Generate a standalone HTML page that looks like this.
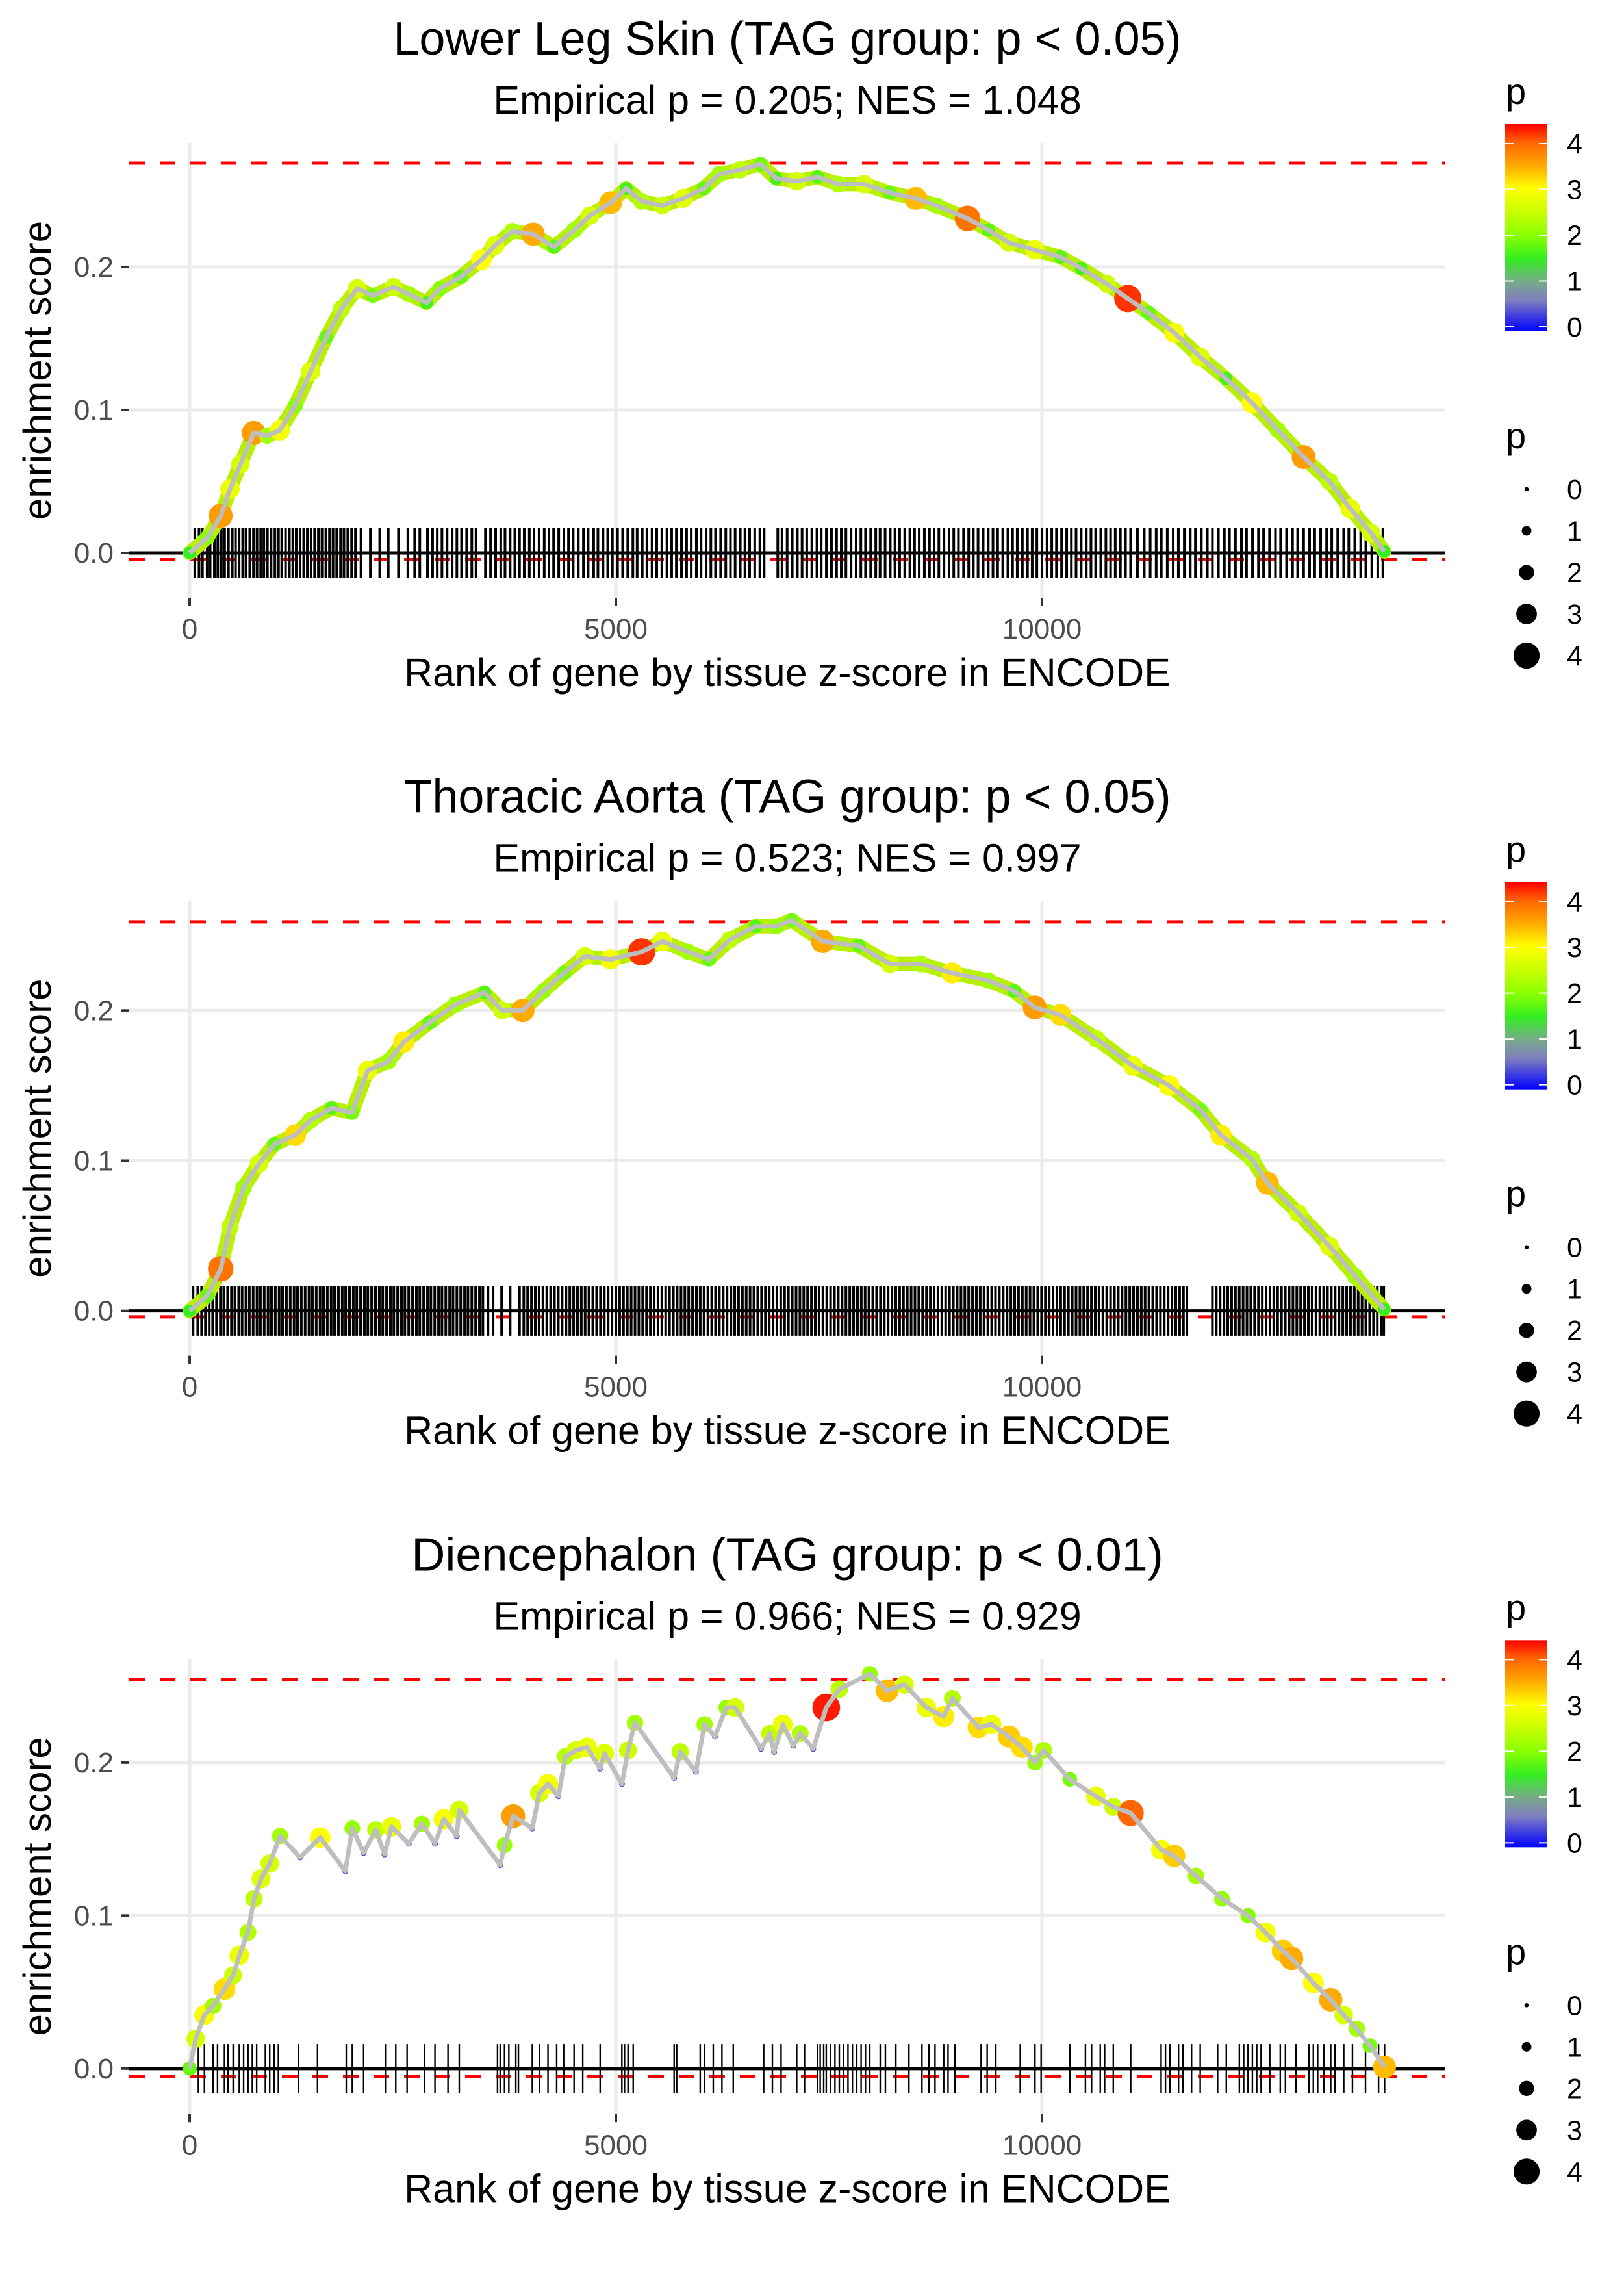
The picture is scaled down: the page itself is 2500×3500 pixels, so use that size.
<!DOCTYPE html>
<html><head><meta charset="utf-8"><style>
html,body{margin:0;padding:0;background:#fff;}
svg{display:block;font-family:"Liberation Sans",Arial,sans-serif;}
</style></head><body>
<svg id="chart" width="2500" height="3500" viewBox="0 0 2500 3500" xmlns="http://www.w3.org/2000/svg">
<defs>
<linearGradient id="pgrad" x1="0" y1="1" x2="0" y2="0">
<stop offset="0" stop-color="#0000ff"/><stop offset="0.15" stop-color="#7f7fbf"/><stop offset="0.24" stop-color="#77aa88"/><stop offset="0.35" stop-color="#33ee22"/><stop offset="0.46" stop-color="#88ff00"/><stop offset="0.58" stop-color="#ccff00"/><stop offset="0.69" stop-color="#ffff00"/><stop offset="0.80" stop-color="#ffaa00"/><stop offset="0.91" stop-color="#ff6600"/><stop offset="1" stop-color="#ff0000"/>
</linearGradient>
</defs>
<g id="panel0">
<text x="1212" y="84" font-size="72" text-anchor="middle">Lower Leg Skin (TAG group: p &lt; 0.05)</text>
<text x="1212" y="175" font-size="61" text-anchor="middle">Empirical p = 0.205; NES = 1.048</text>
<text x="1212" y="1056" font-size="61" text-anchor="middle">Rank of gene by tissue z-score in ENCODE</text>
<text transform="translate(78,570) rotate(-90)" font-size="60" text-anchor="middle">enrichment score</text>
</g>
<g id="panel1" transform="translate(0,1166.67)">
<text x="1212" y="84" font-size="72" text-anchor="middle">Thoracic Aorta (TAG group: p &lt; 0.05)</text>
<text x="1212" y="175" font-size="61" text-anchor="middle">Empirical p = 0.523; NES = 0.997</text>
<text x="1212" y="1056" font-size="61" text-anchor="middle">Rank of gene by tissue z-score in ENCODE</text>
<text transform="translate(78,570) rotate(-90)" font-size="60" text-anchor="middle">enrichment score</text>
</g>
<g id="panel2" transform="translate(0,2333.33)">
<text x="1212" y="84" font-size="72" text-anchor="middle">Diencephalon (TAG group: p &lt; 0.01)</text>
<text x="1212" y="175" font-size="61" text-anchor="middle">Empirical p = 0.966; NES = 0.929</text>
<text x="1212" y="1056" font-size="61" text-anchor="middle">Rank of gene by tissue z-score in ENCODE</text>
<text transform="translate(78,570) rotate(-90)" font-size="60" text-anchor="middle">enrichment score</text>
</g>
</svg>
<script>
// ---- data ----
const xTicks = [0, 5000, 10000];
const yTicks = [0.0, 0.1, 0.2];
const legendTicks = [0, 1, 2, 3, 4];

const p1Rank = [0,206,364,473,595,752,910,1056,1238,1420,1602,1784,1966,2148,2391,2573,2779,2937,3180,3422,3580,3786,4029,4272,4515,4697,4939,5121,5303,5546,5789,6031,6214,6456,6699,6881,7124,7367,7609,7913,8216,8519,8762,9126,9369,9612,9915,10218,10461,10765,11007,11250,11553,11857,12160,12464,12767,13070,13374,13617,13859,14017];
const p1ES = [0,0.0106,0.026,0.0447,0.062,0.084,0.082,0.0857,0.103,0.127,0.151,0.171,0.185,0.180,0.186,0.181,0.175,0.185,0.193,0.205,0.215,0.225,0.223,0.214,0.226,0.236,0.245,0.255,0.246,0.243,0.248,0.255,0.265,0.268,0.272,0.262,0.260,0.263,0.258,0.258,0.252,0.248,0.243,0.234,0.226,0.217,0.212,0.207,0.199,0.188,0.178,0.168,0.154,0.137,0.122,0.105,0.086,0.067,0.050,0.031,0.014,0.001];
const p1P = [1.5,2,3.6,2.8,2.6,3.6,2.2,2.9,2,2.7,1.8,2.4,2.6,1.9,2.5,2.2,1.6,2,1.8,3,2.7,2.3,3.5,1.7,2.2,2.6,3.4,1.6,2.3,2.5,2.7,1.8,2.2,2.4,1.9,1.6,2.6,1.7,2.3,2.6,1.8,3.4,2.2,3.9,1.7,2.6,2.8,1.7,1.6,2.5,4.2,1.8,2.9,2.7,1.6,3,2.2,3.6,2.4,2.8,2.6,1.5];
const p1Rug = [60,110,150,205,240,290,330,372,410,455,500,538,580,622,660,705,748,790,833,870,912,955,1000,1042,1080,1125,1170,1210,1250,1296,1338,1380,1425,1466,1510,1552,1598,1640,1682,1725,1770,1810,1855,1900,1945,2010,2120,2230,2330,2450,2560,2640,2700,2790,2850,2905,2960,3020,3080,3135,3190,3250,3310,3360,3470,3530,3590,3650,3700,3760,3815,3870,3925,3985,4040,4100,4160,4215,4270,4330,4390,4445,4500,4560,4620,4675,4740,4790,4850,4905,4960,5020,5080,5140,5200,5250,5310,5365,5425,5480,5540,5600,5655,5710,5770,5830,5885,5945,6000,6060,6115,6170,6230,6290,6345,6400,6460,6515,6570,6630,6690,6740,6900,6950,7010,7070,7130,7185,7240,7300,7360,7410,7470,7530,7590,7645,7700,7760,7820,7875,7930,7990,8050,8100,8160,8220,8275,8330,8390,8450,8505,8560,8620,8680,8735,8790,8850,8910,8965,9020,9080,9140,9195,9250,9310,9370,9425,9480,9540,9600,9655,9710,9770,9830,9885,9940,10000,10060,10115,10170,10230,10290,10345,10400,10460,10520,10575,10630,10690,10750,10805,10860,10920,10980,11040,11120,11200,11270,11340,11400,11470,11540,11600,11670,11740,11800,11870,11940,12000,12070,12140,12200,12270,12340,12400,12470,12540,12600,12670,12740,12800,12870,12940,13000,13070,13140,13200,13270,13340,13400,13470,13540,13600,13670,13740,13800,13870,13940,14000];

const p2Rank = [0,206,364,473,631,813,995,1238,1420,1663,1905,2087,2330,2512,2816,3119,3459,3665,3908,4150,4393,4636,4939,5303,5546,5850,6092,6335,6638,6881,7063,7427,7852,8216,8580,8944,9369,9672,9915,10218,10643,11068,11493,11857,12100,12464,12646,13010,13374,13677,14017];
const p2ES = [0,0.010,0.028,0.056,0.082,0.098,0.111,0.117,0.127,0.135,0.132,0.160,0.166,0.179,0.192,0.204,0.212,0.200,0.200,0.213,0.225,0.236,0.234,0.239,0.246,0.239,0.234,0.247,0.256,0.256,0.260,0.246,0.243,0.231,0.231,0.225,0.220,0.213,0.202,0.197,0.181,0.163,0.150,0.134,0.117,0.101,0.085,0.065,0.043,0.023,0.001];
const p2P = [1.5,1.8,3.9,2.4,2.2,2.6,1.8,3.2,2.3,1.7,1.9,2.8,2.2,3.1,1.8,2.2,1.7,2.5,3.5,2.1,1.9,2.6,2.9,4.2,2.8,2.2,1.8,2.4,1.7,2.1,1.9,3.5,1.8,2.6,2.3,3.1,2.2,1.7,3.6,3.2,2.4,2.8,3,1.9,3.1,2.3,3.4,2.5,2.7,2.2,1.5];
const p2Rug = [40,95,140,185,230,270,315,360,400,445,490,530,575,615,660,700,745,790,830,875,920,960,1005,1050,1090,1135,1180,1225,1265,1310,1355,1400,1440,1485,1530,1570,1615,1660,1700,1745,1790,1830,1875,1920,1960,2005,2050,2090,2135,2180,2225,2265,2310,2355,2395,2440,2485,2525,2570,2615,2660,2700,2745,2790,2830,2875,2920,2960,3005,3050,3090,3135,3180,3225,3265,3310,3355,3400,3440,3500,3560,3660,3760,3870,3920,3965,4010,4055,4100,4145,4190,4235,4280,4325,4370,4415,4460,4505,4550,4595,4640,4685,4730,4775,4820,4865,4910,4955,5000,5045,5090,5135,5180,5225,5270,5315,5360,5405,5450,5495,5540,5585,5630,5675,5720,5765,5810,5855,5900,5945,5990,6035,6080,6125,6170,6215,6260,6305,6350,6395,6440,6485,6530,6575,6620,6665,6710,6755,6800,6845,6890,6935,6980,7025,7070,7115,7160,7205,7250,7295,7340,7385,7430,7475,7520,7565,7610,7655,7700,7745,7790,7835,7880,7925,7970,8015,8060,8105,8150,8195,8240,8285,8330,8375,8420,8465,8510,8555,8600,8645,8690,8735,8780,8825,8870,8915,8960,9005,9050,9095,9140,9185,9230,9275,9320,9365,9410,9455,9500,9545,9590,9635,9680,9725,9770,9815,9860,9905,9950,9995,10040,10085,10130,10175,10220,10265,10310,10355,10400,10445,10490,10535,10580,10625,10670,10715,10760,10805,10850,10895,10940,10985,11030,11075,11120,11165,11210,11255,11300,11345,11390,11435,11480,11525,11570,11615,11660,11700,12000,12045,12090,12135,12180,12225,12270,12315,12360,12405,12450,12495,12540,12585,12630,12675,12720,12765,12810,12855,12900,12945,12990,13035,13080,13125,13170,13215,13260,13305,13350,13395,13440,13485,13530,13575,13620,13665,13710,13755,13800,13845,13890,13935,13980,14010];

const p3Rank = [0,71,173,276,408,510,582,684,755,837,939,1061,1296,1531,1827,1908,2041,2184,2286,2367,2571,2725,2878,2980,3133,3163,3643,3694,3796,4020,4102,4204,4327,4408,4531,4663,4816,4867,5071,5143,5224,5684,5755,5939,6041,6163,6296,6398,6704,6806,6857,6959,7082,7163,7316,7469,7622,7980,8184,8388,8643,8847,8949,9255,9408,9612,9765,9918,10020,10327,10633,10837,11041,11398,11551,11806,12112,12418,12622,12827,12929,13184,13388,13541,13694,13847,14020];
const p3ES = [0,0.0195,0.035,0.041,0.052,0.061,0.074,0.089,0.111,0.124,0.134,0.152,0.138,0.151,0.129,0.157,0.141,0.156,0.140,0.158,0.147,0.160,0.147,0.163,0.152,0.169,0.133,0.146,0.165,0.157,0.180,0.186,0.178,0.204,0.208,0.210,0.196,0.206,0.186,0.208,0.226,0.190,0.207,0.194,0.225,0.217,0.236,0.236,0.209,0.219,0.207,0.225,0.211,0.219,0.209,0.236,0.248,0.258,0.247,0.251,0.236,0.230,0.242,0.223,0.225,0.217,0.210,0.200,0.208,0.189,0.178,0.171,0.167,0.143,0.139,0.126,0.111,0.100,0.089,0.077,0.072,0.056,0.045,0.035,0.026,0.015,0.001];
const p3P = [1.8,2.6,2.9,2.2,3.2,2.5,2.8,2.3,2.4,2.7,2.6,2.2,0.3,3.0,0.3,2.1,0.3,2.4,0.3,2.8,0.3,2.2,0.3,2.9,0.3,2.6,0.3,2.1,3.6,0.3,2.6,2.9,0.3,2.3,2.6,2.8,0.3,2.7,0.3,2.5,2.2,0.3,2.4,0.3,2.2,0.3,2.1,2.6,0.3,2.4,0.3,2.8,0.3,2.3,0.3,4.3,2.4,2.1,3.4,2.6,2.8,3.1,2.3,3.2,2.8,3.3,3.2,2.1,2.3,1.9,2.8,2.5,4.0,2.9,3.3,2.2,2.1,2.0,2.9,3.3,3.5,3.0,3.5,2.6,2.2,1.9,3.4];
const p3Rug = [102,173,276,327,408,449,510,582,633,684,735,786,888,939,990,1041,1276,1500,1837,1908,2041,2296,2418,2551,2755,2878,3031,3163,3612,3643,3694,3745,3827,3857,4020,4102,4204,4306,4388,4510,4612,4816,5071,5102,5143,5204,5684,5714,5990,6041,6143,6245,6378,6735,6837,6939,7122,7214,7367,7398,7439,7469,7520,7571,7622,7673,7724,7776,7827,7878,7929,7980,8102,8163,8286,8439,8592,8673,8745,8847,8898,8980,9286,9357,9459,9745,9918,9990,10327,10510,10582,10684,10735,10837,11041,11398,11449,11500,11602,11653,11755,11857,12061,12163,12316,12367,12418,12469,12520,12571,12673,12796,12857,12980,13133,13184,13235,13306,13388,13439,13541,13643,13796,13949,14020];

const esMax = [0.2727, 0.259, 0.2543];
const esMin = [-0.0048, -0.004, -0.005];

// ---- layout ----
const NS = "http://www.w3.org/2000/svg";
const panels = [
  {rank:p1Rank, es:p1ES, p:p1P, rug:p1Rug, zero:851, ppu:2200, rugH:0.0173, dense:true},
  {rank:p2Rank, es:p2ES, p:p2P, rug:p2Rug, zero:851, ppu:2312, rugH:0.0165, dense:true},
  {rank:p3Rank, es:p3ES, p:p3P, rug:p3Rug, zero:850.5, ppu:2355, rugH:0.016, dense:false}
];
const X = r => 292 + r * (656/5000);
const stops = [[0,[0,0,255]],[0.6,[127,127,191]],[1,[119,170,136]],[1.5,[51,238,34]],[2,[136,255,0]],[2.5,[204,255,0]],[3,[255,255,0]],[3.5,[255,170,0]],[4,[255,102,0]],[4.4,[255,0,0]]];
function pColor(v){
  if (v <= stops[0][0]) return 'rgb(0,0,255)';
  for (let i=1;i<stops.length;i++){
    if (v <= stops[i][0]){
      const a=stops[i-1], b=stops[i], t=(v-a[0])/(b[0]-a[0]);
      const c=a[1].map((x,k)=>Math.round(x+(b[1][k]-x)*t));
      return 'rgb('+c.join(',')+')';
    }
  }
  return 'rgb(255,0,0)';
}
const pRadius = v => 3.3 + 4.2*v;
function mk(tag, attrs, parent){
  const e=document.createElementNS(NS,tag);
  for (const k in attrs) e.setAttribute(k, attrs[k]);
  parent.appendChild(e); return e;
}
const PL=199, PR=2225, PT=220, PB=920;

panels.forEach((P, idx) => {
  const g = document.getElementById('panel'+idx);
  const Y = v => P.zero - v*P.ppu;
  const back = document.createElementNS(NS,'g');
  g.insertBefore(back, g.firstChild);
  xTicks.forEach(t => {
    const l = mk('line',{x1:X(t),x2:X(t),y1:PT,y2:PB,stroke:'#ebebeb','stroke-width':5},back);
    
    
    const tk = mk('line',{x1:X(t),x2:X(t),y1:PB,y2:PB+13,stroke:'#333','stroke-width':4},back);
    
    
    const tx = mk('text',{x:X(t),y:983,'font-size':44,'text-anchor':'middle',fill:'#4d4d4d'},back);
    tx.textContent = String(t);
    
    
  });
  yTicks.forEach(t => {
    const l = mk('line',{x1:PL,x2:PR,y1:Y(t),y2:Y(t),stroke:'#ebebeb','stroke-width':5},back);
    
    
    const tk = mk('line',{x1:186,x2:199,y1:Y(t),y2:Y(t),stroke:'#333','stroke-width':4},back);
    
    
    const tx = mk('text',{x:175,y:Y(t)+15,'font-size':44,'text-anchor':'end',fill:'#4d4d4d'},back);
    tx.textContent = t.toFixed(1);
    
    
  });
  [esMax[idx], esMin[idx]].forEach(v => {
    const d = mk('line',{x1:PL,x2:PR,y1:Y(v),y2:Y(v),stroke:'#ff0000','stroke-width':5,'stroke-dasharray':'24 23'},g);
    
    
  });
  const rugG = mk('g',{},g);
  
  
  P.rug.forEach(r => {
    const l = mk('line',{x1:X(r),x2:X(r),y1:Y(P.rugH),y2:Y(-P.rugH),stroke:'#000','stroke-width':P.dense?4:2.4},rugG);
    
    
  });
  const z = mk('line',{x1:PL,x2:PR,y1:Y(0),y2:Y(0),stroke:'#000','stroke-width':5},g);
  
  
  const pts = P.rank.map((r,i)=>X(r).toFixed(1)+','+Y(P.es[i]).toFixed(1)).join(' ');
  if (P.dense){
    const band = mk('polyline',{points:pts,fill:'none',stroke:'#b8f000','stroke-width':22,'stroke-linejoin':'round','stroke-linecap':'round'},g);
    
    
  }
  const ptG = mk('g',{},g);
  
  
  P.rank.forEach((r,i) => {
    const c = mk('circle',{cx:X(r),cy:Y(P.es[i]),r:pRadius(P.p[i]),fill:pColor(P.p[i])},ptG);
    
    
  });
  const pl = mk('polyline',{points:pts,fill:'none',stroke:'#bebebe','stroke-width':7,'stroke-linejoin':'round'},g);
  
  
  const lg = mk('g',{},g);
  
  
  const lt = mk('text',{x:2318,y:160,'font-size':56},lg);
  lt.textContent='p';
  
  
  const bar = mk('rect',{x:2317,y:191,width:65,height:319,fill:'url(#pgrad)'},lg);
  
  
  const LY = v => 503 - v*70.5;
  legendTicks.forEach(t => {
    mk('line',{x1:2317,x2:2330,y1:LY(t),y2:LY(t),stroke:'#fff','stroke-width':2},lg);
    mk('line',{x1:2369,x2:2382,y1:LY(t),y2:LY(t),stroke:'#fff','stroke-width':2},lg);
    const tx = mk('text',{x:2412,y:LY(t)+15,'font-size':43},lg);
    tx.textContent=String(t);
    
    
  });
  const sg = mk('g',{},g);
  
  
  const st = mk('text',{x:2318,y:690,'font-size':56},sg);
  st.textContent='p';
  
  
  legendTicks.forEach(t => {
    const cy = 753 + t*64;
    const c = mk('circle',{cx:2350,cy:cy,r:pRadius(t),fill:'#000'},sg);
    
    
    const tx = mk('text',{x:2412,y:cy+15,'font-size':43},sg);
    tx.textContent=String(t);
    
    
  });
});
</script>
</body></html>
